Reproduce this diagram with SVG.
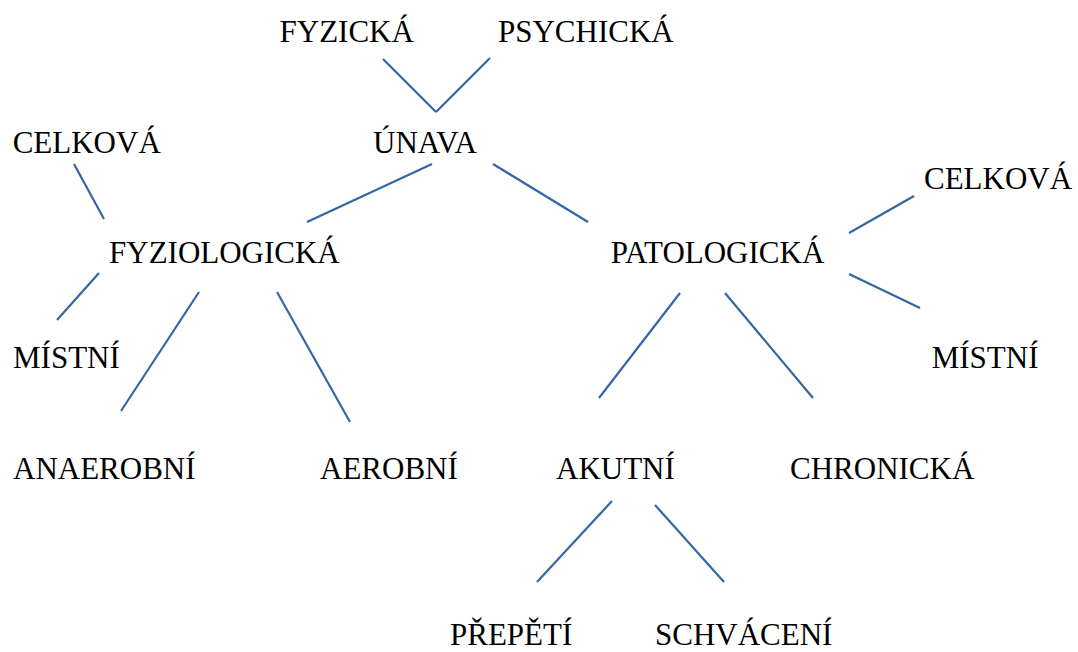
<svg xmlns="http://www.w3.org/2000/svg" width="1078" height="652" viewBox="0 0 1078 652">
<rect width="1078" height="652" fill="#fff"/>
<g id="connectors" stroke="#3465a8" stroke-width="2.2" fill="none">
<line x1="383" y1="59" x2="436" y2="112"/>
<line x1="436" y1="112" x2="490" y2="58"/>
<line x1="432" y1="164" x2="307" y2="222"/>
<line x1="493" y1="164" x2="588" y2="222"/>
<line x1="74" y1="164" x2="104" y2="219"/>
<line x1="99" y1="273" x2="57" y2="320"/>
<line x1="199" y1="292" x2="121" y2="411"/>
<line x1="277" y1="292" x2="350" y2="422"/>
<line x1="849" y1="233" x2="914" y2="196"/>
<line x1="849" y1="274" x2="920" y2="308"/>
<line x1="680" y1="293" x2="599" y2="398"/>
<line x1="725" y1="293" x2="813" y2="398"/>
<line x1="612" y1="501" x2="537" y2="582"/>
<line x1="655" y1="505" x2="724" y2="582"/>
</g>
<g id="fyzicka"><text x="279.5" y="42" font-family="Times New Roman, Liberation Serif, serif" font-size="31">FYZICKÁ</text></g>
<g id="psychicka"><text x="498" y="42" font-family="Times New Roman, Liberation Serif, serif" font-size="31">PSYCHICKÁ</text></g>
<g id="unava"><text x="373" y="153" font-family="Times New Roman, Liberation Serif, serif" font-size="31">ÚNAVA</text></g>
<g id="celkova-l"><text x="12.7" y="153" font-family="Times New Roman, Liberation Serif, serif" font-size="31">CELKOVÁ</text></g>
<g id="fyziologicka"><text x="109" y="263" font-family="Times New Roman, Liberation Serif, serif" font-size="31">FYZIOLOGICKÁ</text></g>
<g id="mistni-l"><text x="13" y="368" font-family="Times New Roman, Liberation Serif, serif" font-size="31">MÍSTNÍ</text></g>
<g id="anaerobni"><text x="13" y="479" font-family="Times New Roman, Liberation Serif, serif" font-size="31">ANAEROBNÍ</text></g>
<g id="aerobni"><text x="320" y="479" font-family="Times New Roman, Liberation Serif, serif" font-size="31">AEROBNÍ</text></g>
<g id="patologicka"><text x="610.7" y="263" font-family="Times New Roman, Liberation Serif, serif" font-size="31">PATOLOGICKÁ</text></g>
<g id="celkova-r"><text x="924" y="189" font-family="Times New Roman, Liberation Serif, serif" font-size="31">CELKOVÁ</text></g>
<g id="mistni-r"><text x="931.7" y="368" font-family="Times New Roman, Liberation Serif, serif" font-size="31">MÍSTNÍ</text></g>
<g id="akutni"><text x="556" y="479" font-family="Times New Roman, Liberation Serif, serif" font-size="31">AKUTNÍ</text></g>
<g id="chronicka"><text x="790" y="479" font-family="Times New Roman, Liberation Serif, serif" font-size="31">CHRONICKÁ</text></g>
<g id="prepeti"><text x="450" y="645" font-family="Times New Roman, Liberation Serif, serif" font-size="31">PŘEPĚTÍ</text></g>
<g id="schvaceni"><text x="655" y="645" font-family="Times New Roman, Liberation Serif, serif" font-size="31">SCHVÁCENÍ</text></g>
</svg>
